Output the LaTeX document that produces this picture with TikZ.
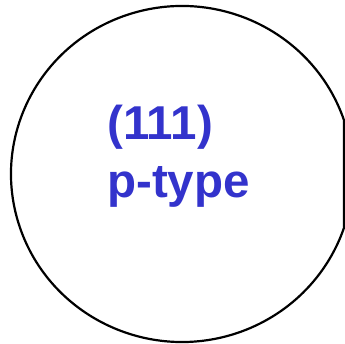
\documentclass[tikz,border=0pt]{standalone}
\usepackage{fontspec}
\setmainfont{Liberation Sans}
\definecolor{labelblue}{RGB}{51,51,204}
\begin{document}
\begin{tikzpicture}[x=1pt,y=-1pt,
  wafer/.style={draw=black,line width=2.2pt,line join=round},
  waferlabel/.style={text=labelblue,font=\fontsize{47.5}{57}\selectfont\bfseries,inner sep=0pt,anchor=base west}]
  \useasboundingbox (0,0) rectangle (345,344);
  % wafer outline: slightly wide ellipse with a primary flat on the right
  \pgfmathsetmacro{\fa}{acos(162/171)}
  \draw[wafer] (344,{174-168*sin(\fa)})
     arc[start angle=\fa,end angle=360-\fa,x radius=171,y radius=-168]
     -- cycle;
  \node[waferlabel] (orient) at (107,140) {(111)};
  \node[waferlabel] (dopant) at (107,198) {p-type};
\end{tikzpicture}
\end{document}
